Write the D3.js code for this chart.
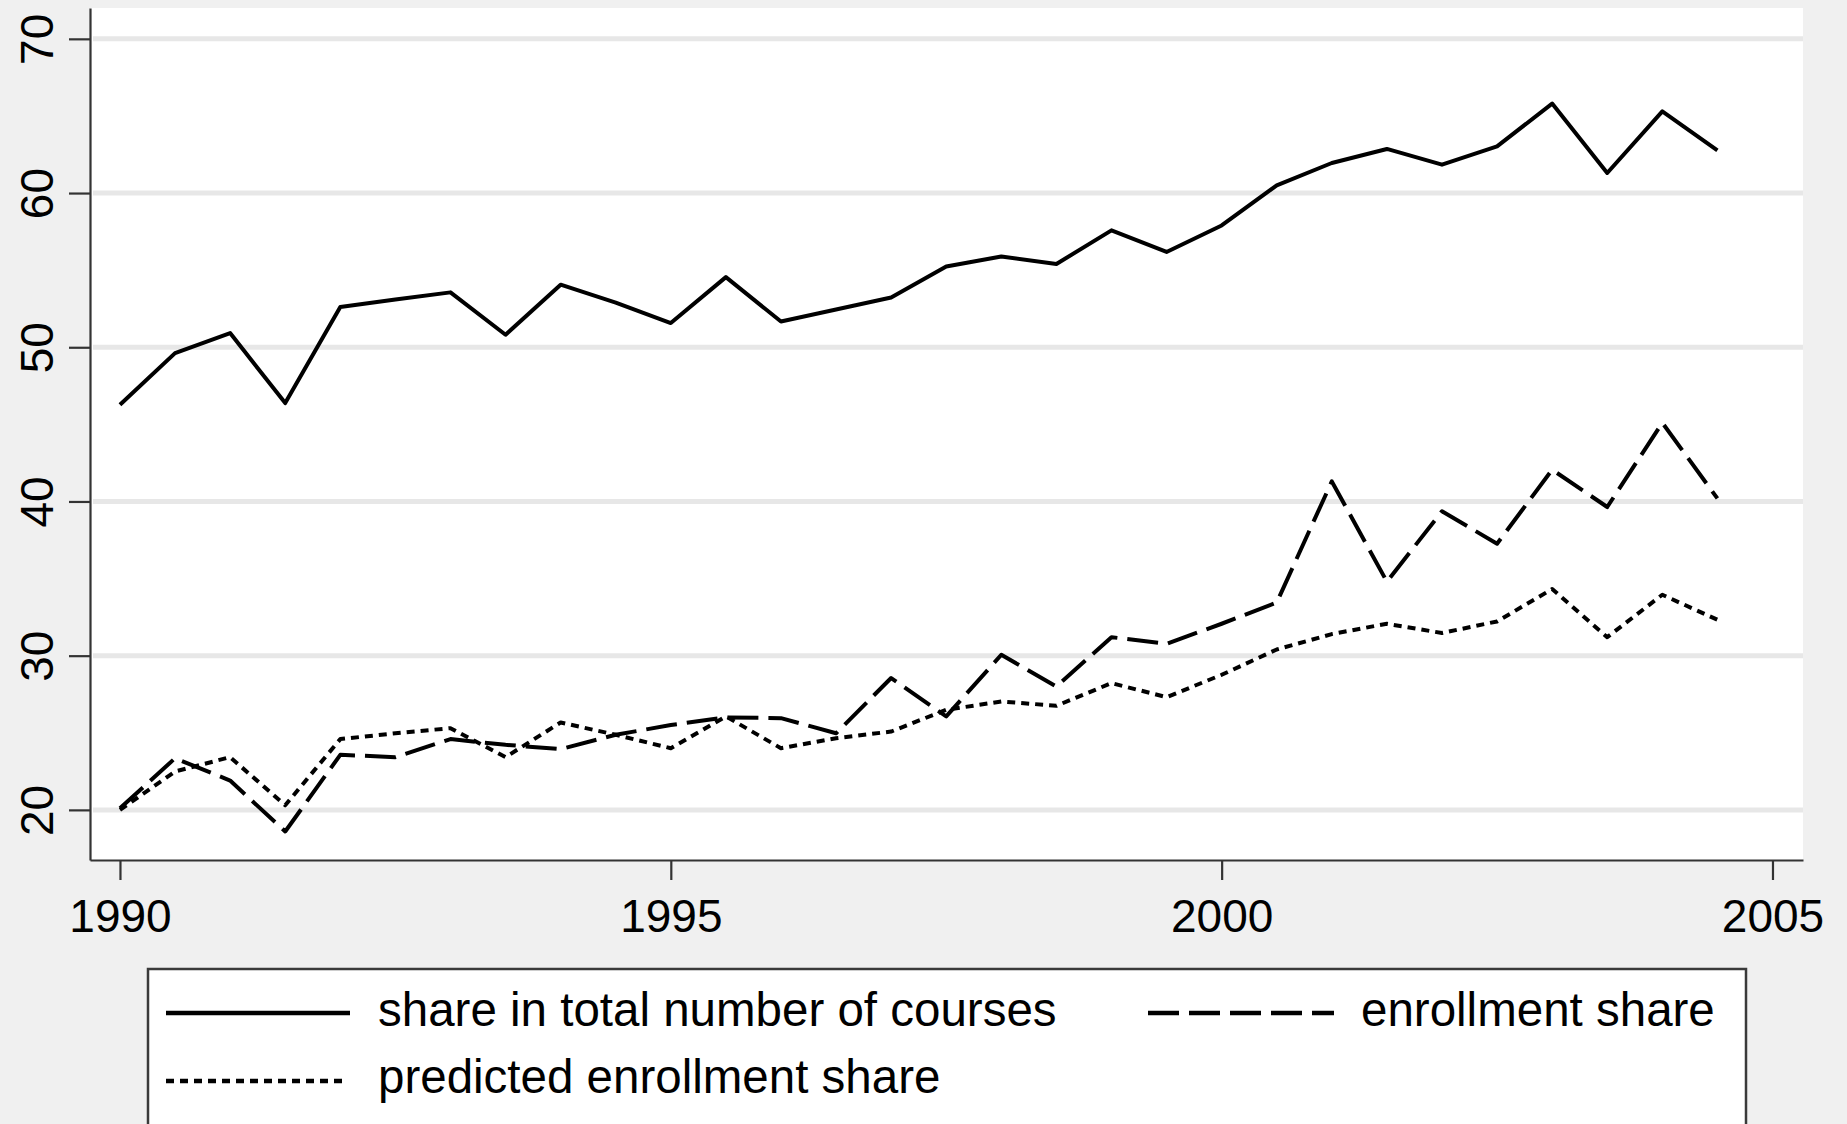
<!DOCTYPE html>
<html>
<head>
<meta charset="utf-8">
<script src="https://cdn.jsdelivr.net/npm/d3@7"></script>
<style>
  html, body { margin: 0; padding: 0; background: #f0f0f0; }
  svg { display: block; }
  text { font-family: "Liberation Sans", Arial, sans-serif; fill: #000; }
</style>
</head>
<body>
<svg id="chart" width="1847" height="1124"></svg>
<script>
// ---- data ----
const years = [1990, 1990.5, 1991, 1991.5, 1992, 1992.5, 1993, 1993.5, 1994, 1994.5,
               1995, 1995.5, 1996, 1996.5, 1997, 1997.5, 1998, 1998.5, 1999, 1999.5,
               2000, 2000.5, 2001, 2001.5, 2002, 2002.5, 2003, 2003.5, 2004, 2004.5];
const courseShare = [46.27, 49.62, 50.92, 46.38, 52.61, 53.1, 53.56, 50.81, 54.06, 52.9,
                     51.57, 54.55, 51.67, 52.45, 53.23, 55.24, 55.89, 55.4, 57.58, 56.18,
                     57.9, 60.5, 61.95, 62.86, 61.84, 63.03, 65.8, 61.3, 65.3, 62.77];
const enrollmentShare = [20.1, 23.35, 21.9, 18.6, 23.57, 23.42, 24.59, 24.22, 23.94, 24.87,
                         25.5, 26.0, 25.95, 24.97, 28.55, 26.06, 30.06, 28.0, 31.2, 30.77,
                         32.07, 33.45, 41.3, 34.8, 39.36, 37.26, 42.06, 39.64, 45.1, 40.2];
const predictedShare = [20.0, 22.49, 23.42, 20.3, 24.59, 24.97, 25.3, 23.42, 25.67, 24.87,
                        24.0, 26.06, 24.0, 24.65, 25.08, 26.49, 27.03, 26.75, 28.22, 27.31,
                        28.76, 30.4, 31.4, 32.07, 31.47, 32.22, 34.32, 31.2, 33.95, 32.33];
const xTicks = [1990, 1995, 2000, 2005];
const yTicks = [20, 30, 40, 50, 60, 70];
const seriesNames = ["share in total number of courses", "enrollment share", "predicted enrollment share"];

// ---- layout ----
const plot = { left: 90, right: 1803, top: 8, bottom: 860 };
const FONT = 46;
const LEGEND_FONT = 47.5;
const styles = [
  { dash: null, width: 4 },
  { dash: "31,10", width: 4 },
  { dash: "8,6", width: 4 }
];

const svg = d3.select("#chart");

const x = d3.scaleLinear().domain([1989.728, 2005.277]).range([plot.left, plot.right]);
const y = d3.scaleLinear().domain([16.75, 72.0]).range([plot.bottom, plot.top]);

// plot region
svg.append("rect")
  .attr("x", plot.left).attr("y", plot.top)
  .attr("width", plot.right - plot.left).attr("height", plot.bottom - plot.top)
  .attr("fill", "#ffffff");

// gridlines
svg.append("g").selectAll("line").data(yTicks).join("line")
  .attr("x1", plot.left + 3).attr("x2", plot.right)
  .attr("y1", d => y(d)).attr("y2", d => y(d))
  .attr("stroke", "#e7e7e7").attr("stroke-width", 5);

// series
const allSeries = [courseShare, enrollmentShare, predictedShare];
const line = d3.line().x((d, i) => x(years[i])).y(d => y(d));
allSeries.forEach((s, k) => {
  svg.append("path")
    .datum(s)
    .attr("d", line)
    .attr("fill", "none")
    .attr("stroke", "#000")
    .attr("stroke-width", styles[k].width)
    .attr("stroke-linejoin", "round")
    .attr("stroke-dasharray", styles[k].dash);
});

// y axis
const yAxis = svg.append("g")
  .attr("transform", `translate(${plot.left},0)`)
  .call(d3.axisLeft(y).tickValues(yTicks).tickSize(21).tickSizeOuter(0).tickFormat(d3.format("d")));
yAxis.select(".domain").attr("stroke", "#333").attr("stroke-width", 2.2);
yAxis.selectAll(".tick line").attr("stroke", "#333").attr("stroke-width", 2.2);
yAxis.selectAll(".tick text")
  .attr("x", 0).attr("dy", null)
  .attr("text-anchor", "middle")
  .attr("font-size", FONT)
  .attr("fill", "#000")
  .attr("transform", "translate(-37,0) rotate(-90)");

// x axis
const xAxis = svg.append("g")
  .attr("transform", `translate(0,${plot.bottom})`)
  .call(d3.axisBottom(x).tickValues(xTicks).tickSize(20).tickSizeOuter(0).tickFormat(d3.format("d")));
xAxis.select(".domain").attr("stroke", "#333").attr("stroke-width", 2.2);
xAxis.selectAll(".tick line").attr("stroke", "#333").attr("stroke-width", 2.2);
xAxis.selectAll(".tick text")
  .attr("y", 72).attr("dy", null)
  .attr("text-anchor", "middle")
  .attr("font-size", FONT)
  .attr("fill", "#000");

// legend
const lg = svg.append("g");
lg.append("rect")
  .attr("x", 148).attr("y", 969).attr("width", 1598).attr("height", 200)
  .attr("fill", "#fff").attr("stroke", "#3a3a3a").attr("stroke-width", 2.5);

const legendItems = [
  { name: seriesNames[0], k: 0, x1: 166, x2: 350, ly: 1013, tx: 378, ty: 1026 },
  { name: seriesNames[1], k: 1, x1: 1148, x2: 1334, ly: 1013, tx: 1361, ty: 1026 },
  { name: seriesNames[2], k: 2, x1: 166, x2: 344, ly: 1081, tx: 378, ty: 1093 }
];
legendItems.forEach(it => {
  lg.append("line")
    .attr("x1", it.x1).attr("x2", it.x2).attr("y1", it.ly).attr("y2", it.ly)
    .attr("stroke", "#000").attr("stroke-width", 4.4)
    .attr("stroke-dasharray", styles[it.k].dash);
  lg.append("text")
    .attr("x", it.tx).attr("y", it.ty)
    .attr("font-size", LEGEND_FONT)
    .text(it.name);
});
</script>
</body>
</html>
